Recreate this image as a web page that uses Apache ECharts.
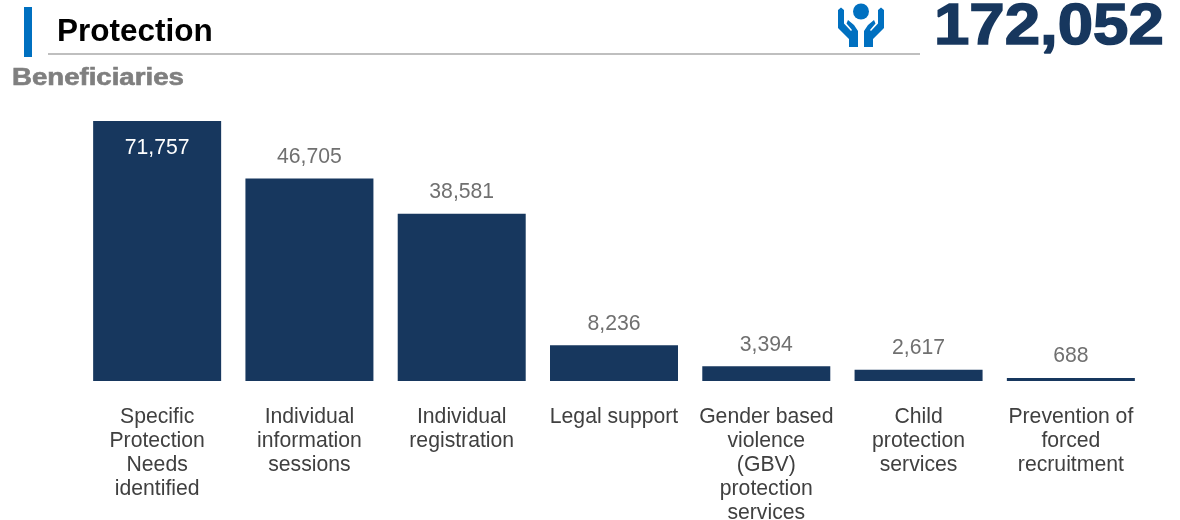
<!DOCTYPE html>
<html><head><meta charset="utf-8">
<style>html,body{margin:0;padding:0;background:#fff}#c{width:1180px;height:520px}</style>
<script src="https://cdn.jsdelivr.net/npm/echarts@6/dist/echarts.min.js"></script>
</head><body><div id="c"></div>
<script>
const categories = ["Specific\nProtection\nNeeds\nidentified","Individual\ninformation\nsessions","Individual\nregistration","Legal support","Gender based\nviolence\n(GBV)\nprotection\nservices","Child\nprotection\nservices","Prevention of\nforced\nrecruitment"];
const beneficiaries = [71757,46705,38581,8236,3394,2617,688];
const axisMax = 60000;
const titleText = "Protection";
const subtitleText = "Beneficiaries";
const totalText = "172,052";
const navy = "#17375E", blue = "#0070C0";
const font = "'Liberation Sans', Arial, sans-serif";

const chart = echarts.init(document.getElementById('c'), null, {renderer:'canvas'});
chart.setOption({
  animation:false,
  backgroundColor:'#fff',
  grid:{left:81,right:33,top:121,height:260,containLabel:false,outerBoundsMode:'none'},
  xAxis:{type:'category',data:categories,axisLine:{show:false},axisTick:{show:false},
    axisLabel:{interval:0,color:'#404040',fontFamily:font,fontSize:21.2,lineHeight:24,margin:24,verticalAlign:'top'}},
  yAxis:{type:'value',min:0,max:axisMax,show:false,splitLine:{show:false}},
  series:[{type:'bar',barWidth:128,clip:true,itemStyle:{color:navy},
    data:beneficiaries.map((v,i)=> i===0 ? {value:v,label:{position:'insideTop',distance:17,color:'#fff'}} : v),
    label:{show:true,position:'top',distance:11,color:'#707070',fontFamily:font,fontSize:21.2,
      formatter:p=>p.value.toLocaleString('en-US')}}],
  graphic:[
    {type:'rect',shape:{x:24,y:7,width:8,height:50},style:{fill:blue},silent:true},
    {type:'rect',shape:{x:48,y:53,width:872,height:2},style:{fill:'#BFBFBF'},silent:true},
    {type:'text',x:57,y:32,style:{text:titleText,font:"bold 31.5px "+font,fill:'#000',verticalAlign:'middle'}},
    {type:'text',x:12,y:79,scaleX:1.2,style:{text:subtitleText,font:"bold 23px "+font,fill:'#7F7F7F',stroke:'#7F7F7F',lineWidth:0.6,verticalAlign:'middle'}},
    {type:'text',x:934,y:28,scaleX:1.115,style:{text:totalText,font:"bold 57px "+font,fill:navy,stroke:navy,lineWidth:1.5,verticalAlign:'middle'}},
    {type:'circle',shape:{cx:861,cy:11.5,r:8},style:{fill:blue}},
    {type:'polygon',shape:{points:[[838,10],[841,7.5],[844,10],[844,23.5],[851,31],[852,30],[846.5,23.5],[848,20],[854,25],[858,31],[858,47],[849,47],[849,39],[838,28]]},style:{fill:blue}},
    {type:'polygon',shape:{points:[[884,10],[881,7.5],[878,10],[878,23.5],[871,31],[870,30],[875.5,23.5],[874,20],[868,25],[864,31],[864,47],[873,47],[873,39],[884,28]]},style:{fill:blue}}
  ]
});
</script></body></html>
